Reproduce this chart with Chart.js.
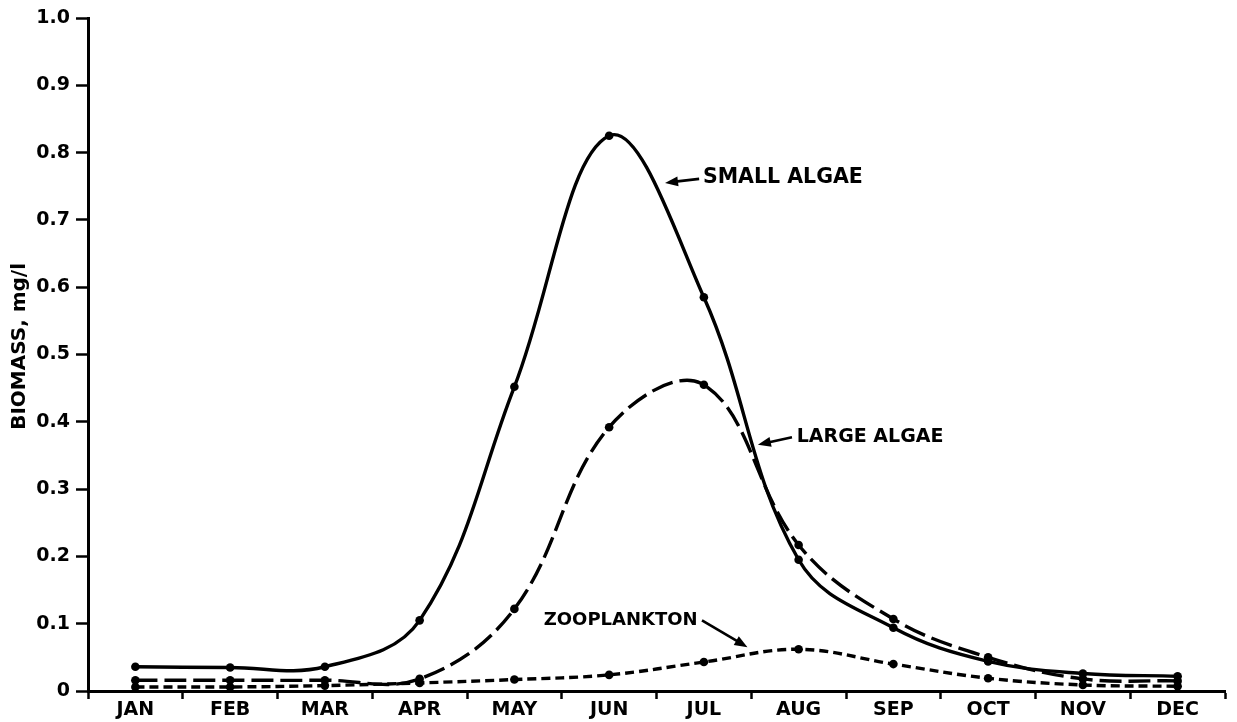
<!DOCTYPE html>
<html>
<head>
<meta charset="utf-8">
<script src="https://cdn.jsdelivr.net/npm/chart.js@4"></script>
<style>
  html, body { margin: 0; padding: 0; background: #fff; }
  canvas { display: block; }
</style>
</head>
<body>
<canvas id="biomass" width="1237" height="722"></canvas>
<script>
// Months along the bottom axis
const months = ['JAN', 'FEB', 'MAR', 'APR', 'MAY', 'JUN', 'JUL', 'AUG', 'SEP', 'OCT', 'NOV', 'DEC'];

// Biomass, mg/l, one value per month
const smallAlgae  = [0.036, 0.035, 0.036, 0.105, 0.452, 0.825, 0.585, 0.195, 0.094, 0.044, 0.026, 0.022];
const largeAlgae  = [0.016, 0.016, 0.016, 0.018, 0.122, 0.392, 0.455, 0.217, 0.107, 0.050, 0.018, 0.015];
const zooplankton = [0.006, 0.006, 0.008, 0.012, 0.017, 0.024, 0.043, 0.062, 0.040, 0.019, 0.009, 0.007];

// Vertical axis tick labels, bottom to top
const yTickLabels = ['0', '0.1', '0.2', '0.3', '0.4', '0.5', '0.6', '0.7', '0.8', '0.9', '1.0'];
const yTitle = 'BIOMASS, mg/l';

// Curve labels: text, anchor (month index, value) for the text's left/middle, arrow tail and tip
const curveLabels = [
  { text: 'SMALL ALGAE', size: 20.5, at: [5.99, 0.763], tail: [5.95, 0.761], tip: [5.59, 0.755] },
  { text: 'LARGE ALGAE', size: 19,   at: [6.98, 0.377], tail: [6.93, 0.377], tip: [6.57, 0.366] },
  { text: 'ZOOPLANKTON', size: 18,   at: [4.31, 0.105], tail: [5.98, 0.105], tip: [6.46, 0.065] }
];

const INK = '#000';
const FONT = 'DejaVu Sans';

function drawArrow(ctx, x1, y1, x2, y2) {
  const ang = Math.atan2(y2 - y1, x2 - x1);
  const head = 13, half = 5;
  ctx.beginPath();
  ctx.moveTo(x1, y1);
  ctx.lineTo(x2 - Math.cos(ang) * head * 0.8, y2 - Math.sin(ang) * head * 0.8);
  ctx.lineWidth = 2.6;
  ctx.strokeStyle = INK;
  ctx.stroke();
  ctx.beginPath();
  ctx.moveTo(x2, y2);
  ctx.lineTo(x2 - Math.cos(ang) * head + Math.sin(ang) * half, y2 - Math.sin(ang) * head - Math.cos(ang) * half);
  ctx.lineTo(x2 - Math.cos(ang) * head - Math.sin(ang) * half, y2 - Math.sin(ang) * head + Math.cos(ang) * half);
  ctx.closePath();
  ctx.fillStyle = INK;
  ctx.fill();
}

const curveLabelPlugin = {
  id: 'curveLabels',
  afterDatasetsDraw(chart) {
    const { ctx, scales: { x, y } } = chart;
    ctx.save();
    ctx.fillStyle = INK;
    ctx.textBaseline = 'middle';
    ctx.textAlign = 'left';
    curveLabels.forEach(l => {
      ctx.font = 'bold ' + l.size + 'px "' + FONT + '"';
      ctx.fillText(l.text, x.getPixelForValue(l.at[0]), y.getPixelForValue(l.at[1]));
      drawArrow(ctx,
        x.getPixelForValue(l.tail[0]), y.getPixelForValue(l.tail[1]),
        x.getPixelForValue(l.tip[0]), y.getPixelForValue(l.tip[1]));
    });
    // rotated vertical axis title
    ctx.translate(20, y.getPixelForValue(0.512));
    ctx.rotate(-Math.PI / 2);
    ctx.textAlign = 'center';
    ctx.font = 'bold 20px "' + FONT + '"';
    ctx.fillText(yTitle, 0, 0);
    ctx.restore();
  }
};

function series(label, data, dash) {
  return {
    label,
    data,
    borderColor: INK,
    backgroundColor: INK,
    borderWidth: 3.4,
    borderDash: dash,
    pointRadius: 4.3,
    pointBackgroundColor: INK,
    pointBorderWidth: 0,
    tension: 0.38,
    fill: false
  };
}

new Chart(document.getElementById('biomass'), {
  type: 'line',
  data: {
    labels: months,
    datasets: [
      series('Small algae', smallAlgae, []),
      series('Large algae', largeAlgae, [22, 7]),
      series('Zooplankton', zooplankton, [9, 5])
    ]
  },
  options: {
    responsive: false,
    devicePixelRatio: 1,
    animation: false,
    layout: { padding: { top: 18, right: 12, left: 0, bottom: 0 } },
    plugins: { legend: { display: false }, tooltip: { enabled: false } },
    scales: {
      x: {
        type: 'category',
        offset: true,
        grid: { offset: true, drawOnChartArea: false, drawTicks: true, tickLength: 8, tickColor: INK, tickWidth: 2.5 },
        border: { display: true, color: INK, width: 3 },
        ticks: { color: INK, font: { family: FONT, size: 19, weight: 'bold' }, padding: 0, maxRotation: 0, autoSkip: false },
        afterFit(scale) { scale.height = 31; }
      },
      y: {
        min: 0,
        max: 1,
        grid: { drawOnChartArea: false, drawTicks: true, tickLength: 12, tickColor: INK, tickWidth: 2.5 },
        border: { display: true, color: INK, width: 3 },
        ticks: {
          stepSize: 0.1,
          color: INK,
          padding: 6,
          font: { family: FONT, size: 19, weight: 'bold' },
          callback: (v, i) => yTickLabels[i]
        },
        afterFit(scale) { scale.width = 88; }
      }
    }
  },
  plugins: [curveLabelPlugin]
});
</script>
</body>
</html>
